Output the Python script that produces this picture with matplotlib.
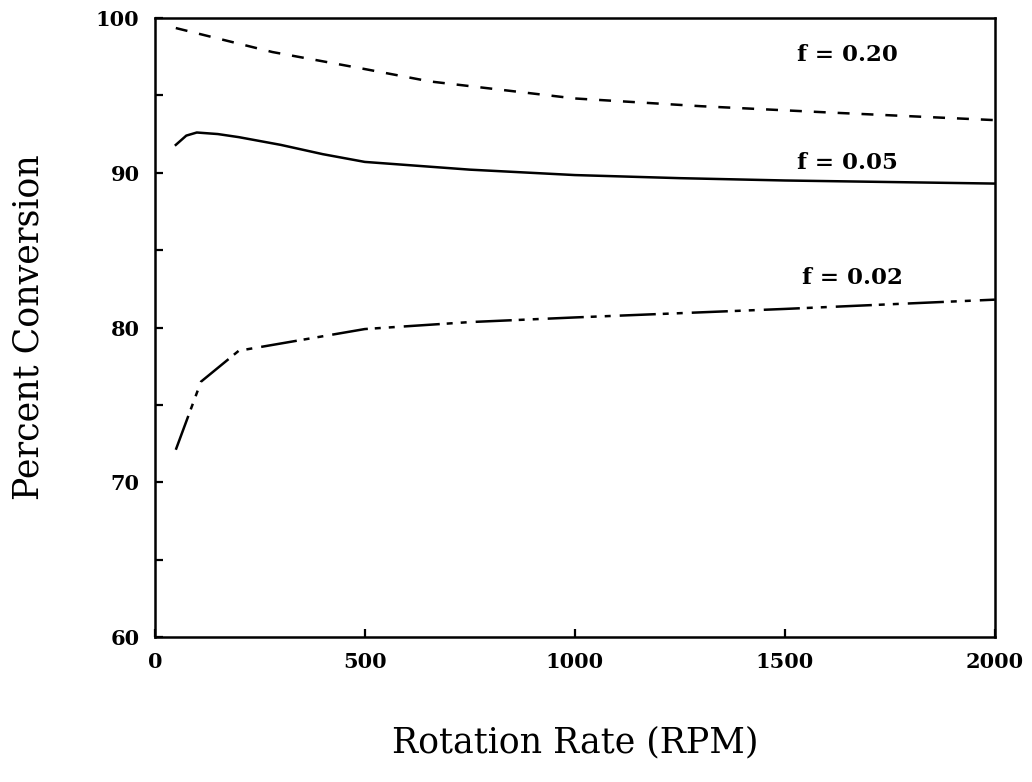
import matplotlib
matplotlib.use("Agg")
import matplotlib.pyplot as plt
from matplotlib.ticker import MultipleLocator, FixedLocator

plt.rcParams['lines.scale_dashes'] = False
plt.rcParams['font.family'] = ['DejaVu Serif']

# Data
rpm_f20 = [50, 280, 500, 655, 1000, 1300, 1600, 2000]
conv_f20 = [99.35, 97.8, 96.7, 95.9, 94.8, 94.3, 93.9, 93.4]

rpm_f05 = [50, 75, 100, 150, 200, 300, 400, 500, 750, 1000, 1250, 1500, 2000]
conv_f05 = [91.8, 92.4, 92.6, 92.5, 92.3, 91.8, 91.2, 90.7, 90.2, 89.85, 89.65, 89.5, 89.3]

rpm_f02 = [50, 110, 200, 500, 750, 1000, 1500, 2000]
conv_f02 = [72.1, 76.5, 78.5, 79.9, 80.35, 80.65, 81.2, 81.8]

labels = ["f = 0.20", "f = 0.05", "f = 0.02"]
label_x = [1650, 1650, 1660]
label_y = [96.9, 89.9, 82.5]

fig = plt.figure(figsize=(10.32, 7.82), dpi=100)
ax = fig.add_axes([0.150, 0.1854, 0.814, 0.7916])

ax.plot(rpm_f20, conv_f20, color='black', lw=1.8, dashes=(8.6, 8.6))
ax.plot(rpm_f05, conv_f05, color='black', lw=1.8, linestyle='-')
ax.plot(rpm_f02, conv_f02, color='black', lw=1.8,
        dashes=(26, 5, 4.3, 5.8, 4.3, 6.5))

for t, x, y in zip(labels, label_x, label_y):
    ax.text(x, y, t, fontsize=16.5, fontweight='bold', ha='center', va='bottom')

ax.set_xlim(0, 2000)
ax.set_ylim(60, 100)
ax.xaxis.set_major_locator(FixedLocator([0, 500, 1000, 1500, 2000]))
ax.yaxis.set_major_locator(MultipleLocator(10))
ax.yaxis.set_minor_locator(MultipleLocator(5))

ax.tick_params(axis='both', which='both', direction='in', length=6, width=1.6,
               top=False, right=False)
ax.tick_params(axis='y', which='major', pad=11, labelsize=15)
ax.tick_params(axis='x', which='major', pad=11, labelsize=15)
for lab in ax.get_xticklabels() + ax.get_yticklabels():
    lab.set_fontweight('bold')

for s in ax.spines.values():
    s.set_linewidth(1.8)

ax.set_xlabel("Rotation Rate (RPM)", fontsize=25, labelpad=38)
ax.set_ylabel("Percent Conversion", fontsize=25, labelpad=36)

fig.savefig("out.png", dpi=100)
